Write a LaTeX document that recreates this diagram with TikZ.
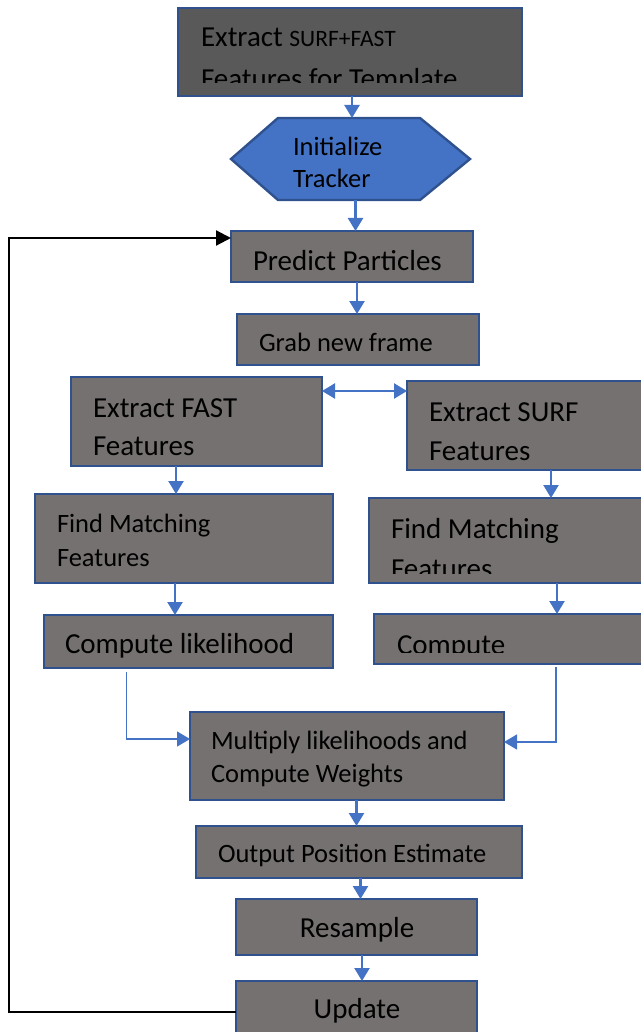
\documentclass[tikz,border=0pt]{standalone}
\usepackage{fontspec}
\setmainfont{Carlito}
\usetikzlibrary{arrows.meta}
\definecolor{boxgray}{HTML}{767171}
\definecolor{darkbox}{HTML}{595959}
\definecolor{edgeblue}{HTML}{2F528F}
\definecolor{flowblue}{HTML}{4472C4}
\definecolor{linkblue}{HTML}{5B8AD6}

\begin{document}
\begin{tikzpicture}[x=1pt,y=-1pt,
  box/.style={draw=edgeblue, line width=2.4pt, fill=boxgray, inner sep=0pt, outer sep=0pt, anchor=north west},
  hexshape/.style={draw=edgeblue, line width=2.4pt, fill=flowblue},
  txt/.style={inner sep=0pt, outer sep=0pt, anchor=base west, text=black},
  big/.style={txt, font=\fontsize{29}{34}\selectfont},
  mid/.style={txt, font=\fontsize{26.5}{32}\selectfont},
  flow/.style={draw=flowblue, line width=2.3pt, -{Triangle[length=13pt,width=15pt]}},
  twoway/.style={draw=flowblue, line width=2.3pt, {Triangle[length=13pt,width=15pt]}-{Triangle[length=13pt,width=15pt]}},
  link/.style={draw=linkblue, line width=1.4pt, -{Triangle[length=13pt,width=15pt]}, color=flowblue},
  back/.style={draw=black, line width=2.2pt, -{Triangle[length=15pt,width=15pt]}}
]
\useasboundingbox (0,0) rectangle (640,1032);

% ---- boxes ----
\node[box, fill=darkbox, minimum width=344pt, minimum height=88pt] (top) at (178,8) {};
\node[inner sep=0pt, outer sep=0pt, anchor=north west, minimum width=239pt, minimum height=82pt] (hex) at (231,118) {};
\draw[hexshape] (hex.west) -- ([xshift=47pt]hex.north west) -- ([xshift=-50pt]hex.north east)
  -- (hex.east) -- ([xshift=-50pt]hex.south east) -- ([xshift=47pt]hex.south west) -- cycle;
\node[box, minimum width=242pt, minimum height=51pt] (predict) at (231,231) {};
\node[box, minimum width=242pt, minimum height=51pt] (grab) at (237,314) {};
\node[box, minimum width=251pt, minimum height=89pt] (fast) at (71,377) {};
\node[box, minimum width=263pt, minimum height=89pt] (surf) at (407,381) {};
\node[box, minimum width=298pt, minimum height=89pt] (findL) at (35,494) {};
\node[box, minimum width=301pt, minimum height=85pt] (findR) at (369,498) {};
\node[box, minimum width=289pt, minimum height=53pt] (compL) at (44,615) {};
\node[box, minimum width=296pt, minimum height=50pt] (compR) at (374,614) {};
\node[box, minimum width=314pt, minimum height=88pt] (mult) at (190,712) {};
\node[box, minimum width=326pt, minimum height=52pt] (output) at (196,826) {};
\node[box, minimum width=241pt, minimum height=56pt] (resample) at (236,899) {};
\node[box, minimum width=241pt, minimum height=64pt] (update) at (236,981) {};

% ---- labels ----
\begin{scope}
  \clip (top.north west) rectangle ([yshift=13pt]top.south east);
  \node[big] (top-a) at (201,47) {Extract {\fontsize{23.5}{28}\selectfont SURF+FAST}};
  \node[big] (top-b) at (201,89) {Features for Template};
\end{scope}
\node[mid] (hex-a) at (293,156) {Initialize};
\node[mid] (hex-b) at (293,188) {Tracker};
\node[big] (predict-t) at (253,270) {Predict Particles};
\node[mid] (grab-t) at (259,351) {Grab new frame};
\node[big] (fast-a) at (93,417) {Extract FAST};
\node[big] (fast-b) at (93,455) {Features};
\node[big] (surf-a) at (429,421) {Extract SURF};
\node[big] (surf-b) at (429,460) {Features};
\node[mid] (findL-a) at (57,532) {Find Matching};
\node[mid] (findL-b) at (57,566) {Features};
\begin{scope}
  \clip (findR.north west) rectangle ([yshift=10pt]findR.south east);
  \node[big] (findR-a) at (391,538) {Find Matching};
  \node[big] (findR-b) at (391,578) {Features};
\end{scope}
\node[big] (compL-t) at (65,653) {Compute likelihood};
\begin{scope}
  \clip (compR.north west) rectangle ([yshift=12pt]compR.south east);
  \node[big] (compR-t) at (397,654) {Compute};
\end{scope}
\node[mid] (mult-a) at (211,749) {Multiply likelihoods and};
\node[mid] (mult-b) at (211,782) {Compute Weights};
\node[mid] (output-t) at (218,862) {Output Position Estimate};
\node[big, anchor=base] (resample-t) at (357,937) {Resample};
\node[big, anchor=base] (update-t) at (357,1018) {Update};

% ---- connectors ----
\draw[flow] ([xshift=2pt]top.south) -- ([xshift=1.5pt]hex.north);
\draw[flow] ([xshift=5pt]hex.south) -- ([xshift=3.5pt]predict.north);
\draw[flow] ([xshift=5pt]predict.south) -- ([xshift=-1pt]grab.north);
\draw[twoway] ([yshift=-14pt]fast.north east) -- ([yshift=-10pt]surf.north west);
\draw[flow] ([xshift=-20.5pt]fast.south) -- ([xshift=-8pt]findL.north);
\draw[flow] ([xshift=12.5pt]surf.south) -- ([xshift=31.5pt]findR.north);
\draw[flow] ([xshift=-9pt]findL.south) -- ([xshift=-13.5pt]compL.north);
\draw[flow] ([xshift=37.5pt]findR.south) -- ([xshift=35pt]compR.north);
\draw[link] ([xshift=-62pt,yshift=-4pt]compL.south) |- ([yshift=17pt]mult.west);
\draw[link] ([xshift=34pt,yshift=-3pt]compR.south) |- ([yshift=14pt]mult.east);
\draw[flow] ([xshift=9.5pt]mult.south) -- ([xshift=-2.5pt]output.north);
\draw[flow] ([xshift=1.5pt]output.south) -- ([xshift=4pt]resample.north);
\draw[flow] ([xshift=5.5pt]resample.south) -- ([xshift=5.5pt]update.north);
\coordinate (loop) at (9,238);
\draw[back] ([yshift=1pt]update.west) -| (loop) -- ([yshift=18.5pt]predict.west);
\end{tikzpicture}
\end{document}
